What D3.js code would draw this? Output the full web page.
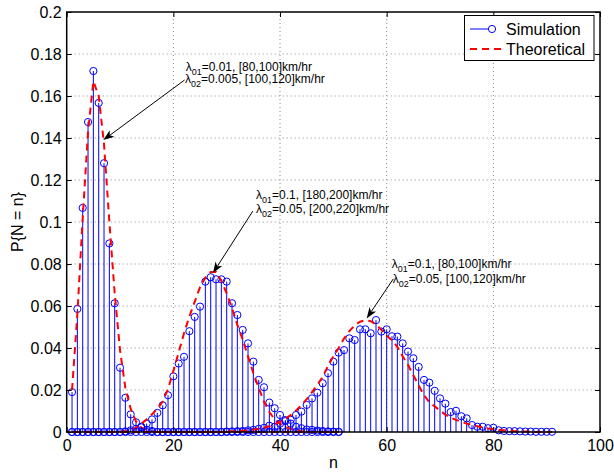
<!DOCTYPE html>
<html>
<head>
<meta charset="utf-8">
<script src="https://cdn.jsdelivr.net/npm/d3@7"></script>
<style>
  body { margin: 0; background: #fff; }
  svg text { font-family: "Liberation Sans", Arial, Helvetica, sans-serif; fill: #000; }
</style>
</head>
<body>
<div id="chart"></div>
<script>
// simulated P{N = n}, index 0 -> n = 1
var sim1 = [0.019, 0.0586, 0.1067, 0.1476, 0.1719, 0.1567, 0.128, 0.0898, 0.0613, 0.0306,
            0.0163, 0.0084, 0.0046, 0.0022, 0.001, 0.0005, 0, 0, 0, 0,
            0, 0, 0, 0, 0, 0, 0, 0, 0, 0,
            0, 0, 0, 0, 0, 0, 0, 0, 0, 0,
            0, 0, 0, 0, 0, 0, 0, 0, 0, 0, 0];
var sim2 = [0, 0, 0, 0, 0, 0, 0, 0, 0, 0,
            0.0003, 0.0008, 0.0015, 0.0025, 0.004, 0.006, 0.0091, 0.0127, 0.0175, 0.0265,
            0.0326, 0.0358, 0.048, 0.0548, 0.0597, 0.0716, 0.0737, 0.0727, 0.0727, 0.0716,
            0.0613, 0.0557, 0.0486, 0.0422, 0.0335, 0.0248, 0.0213, 0.014, 0.0113, 0.0081,
            0.0057, 0.004, 0.0025, 0.0018, 0.0012, 0.001, 0.0007, 0.0005, 0.0003, 0.0002, 0.0001];
var sim3 = [0, 0, 0, 0, 0, 0, 0, 0, 0, 0,
            0, 0, 0, 0, 0, 0, 0, 0, 0, 0,
            0, 0, 0, 0, 0, 0, 0, 0, 0, 0.0002,
            0.0003, 0.0004, 0.0005, 0.0008, 0.001, 0.0015, 0.002, 0.003, 0.0025, 0.004,
            0.0052, 0.0058, 0.0081, 0.0097, 0.0129, 0.016, 0.0187, 0.0232, 0.028, 0.0335,
            0.0378, 0.039, 0.0446, 0.0438, 0.0489, 0.0489, 0.047, 0.0533, 0.0478, 0.0489,
            0.0456, 0.0454, 0.0422, 0.0383, 0.0351, 0.031, 0.0248, 0.0235, 0.0196, 0.016,
            0.0135, 0.0095, 0.0101, 0.0075, 0.0065, 0.0033, 0.0025, 0.0025, 0.0018, 0.002,
            0.0008, 0.0005, 0.0004, 0.0004, 0.0003, 0.0002, 0.0002, 0.0001, 0.0001, 0.0001, 0.0001];

// theoretical P{N = n}, index 0 -> n = 1
var theo1 = [0.02, 0.056, 0.102, 0.143, 0.167, 0.16, 0.137, 0.1, 0.066, 0.039,
             0.021, 0.011, 0.005, 0.002, 0.001, 0.0004, 0, 0, 0, 0,
             0, 0, 0, 0, 0, 0, 0, 0, 0, 0,
             0, 0, 0, 0, 0, 0, 0, 0, 0, 0,
             0, 0, 0, 0, 0, 0, 0, 0, 0, 0, 0];
var theo2 = [0, 0, 0, 0, 0, 0, 0, 0, 0, 0,
             0.0005, 0.001, 0.002, 0.004, 0.006, 0.0085, 0.011, 0.0145, 0.0205, 0.029,
             0.038, 0.047, 0.055, 0.062, 0.069, 0.0735, 0.0762, 0.0762, 0.072, 0.066,
             0.059, 0.051, 0.044, 0.036, 0.028, 0.021, 0.0145, 0.0095, 0.006, 0.004,
             0.0025, 0.0015, 0.0008, 0.0004, 0.0002, 0, 0, 0, 0, 0, 0];
var theo3 = [0, 0, 0, 0, 0, 0, 0, 0, 0, 0,
             0, 0, 0, 0, 0, 0, 0, 0, 0, 0,
             0, 0, 0, 0, 0, 0, 0, 0, 0, 0.0002,
             0.0003, 0.0004, 0.0006, 0.0008, 0.0011, 0.0015, 0.002, 0.0027, 0.0036, 0.0048,
             0.0063, 0.008, 0.0102, 0.0127, 0.0156, 0.019, 0.0225, 0.0262, 0.0315, 0.036,
             0.04, 0.0445, 0.048, 0.0508, 0.0525, 0.0533, 0.0528, 0.0512, 0.0487, 0.0458,
             0.0438, 0.0405, 0.036, 0.032, 0.027, 0.0222, 0.0175, 0.0142, 0.0122, 0.0102,
             0.0083, 0.0068, 0.0058, 0.0048, 0.004, 0.0034, 0.0028, 0.0022, 0.0017, 0.0013,
             0.001, 0.0008, 0.0006, 0.0004, 0.0003, 0.0002, 0.0001, 0, 0, 0, 0];

var xTicks = [0, 20, 40, 60, 80, 100];
var yTicks = [0, 0.02, 0.04, 0.06, 0.08, 0.1, 0.12, 0.14, 0.16, 0.18, 0.2];
var legendNames = ["Simulation", "Theoretical"];

// annotation text + arrow (data units)
var notes = [
  {l1: ["01", "=0.01, [80,100]km/hr"], l2: ["02", "=0.005, [100,120]km/hr"],
   t1: [22.3, 0.172], t2: [22.2, 0.166], from: [22.1, 0.1676], to: [6.86, 0.139]},
  {l1: ["01", "=0.1, [180,200]km/hr"], l2: ["02", "=0.05, [200,220]km/hr"],
   t1: [35.5, 0.1108], t2: [35.5, 0.1041], from: [34.9, 0.1052], to: [27.43, 0.0757]},
  {l1: ["01", "=0.1, [80,100]km/hr"], l2: ["02", "=0.05, [100,120]km/hr"],
   t1: [60.94, 0.078], t2: [61.13, 0.0708], from: [61.24, 0.0729], to: [56.25, 0.0541]}
];

var width = 614, height = 474;
var margin = {top: 12, right: 14, bottom: 42, left: 66.7};

var svg = d3.select("#chart").append("svg")
  .attr("width", width)
  .attr("height", height);

var x = d3.scaleLinear().domain([0, 100]).range([margin.left, width - margin.right]);
var y = d3.scaleLinear().domain([0, 0.2]).range([height - margin.bottom, margin.top]);

// dotted grid
svg.append("g").selectAll("line.gx")
  .data(xTicks.slice(1, -1)).enter().append("line")
  .attr("x1", d => x(d)).attr("x2", d => x(d))
  .attr("y1", y(0)).attr("y2", y(0.2))
  .attr("stroke", "#8a8a8a").attr("stroke-width", 1).attr("stroke-dasharray", "1,3");
svg.append("g").selectAll("line.gy")
  .data(yTicks.slice(1, -1)).enter().append("line")
  .attr("y1", d => y(d)).attr("y2", d => y(d))
  .attr("x1", x(0)).attr("x2", x(100))
  .attr("stroke", "#8a8a8a").attr("stroke-width", 1).attr("stroke-dasharray", "1,3");

var line = d3.line().x(d => x(d.n)).y(d => y(d.v));
var toPts = arr => arr.map((v, i) => ({n: i + 1, v: v}));

function drawStem(arr) {
  var pts = toPts(arr);
  var g = svg.append("g");
  g.selectAll("line").data(pts).enter().append("line")
    .attr("x1", d => x(d.n)).attr("x2", d => x(d.n))
    .attr("y1", y(0)).attr("y2", d => y(d.v))
    .attr("stroke", "#0000ff").attr("stroke-width", 1);
  g.selectAll("circle").data(pts).enter().append("circle")
    .attr("cx", d => x(d.n)).attr("cy", d => y(d.v)).attr("r", 3.6)
    .attr("fill", "none").attr("stroke", "#0000ff").attr("stroke-width", 1);
}
function drawTheo(arr) {
  svg.append("path").datum(toPts(arr))
    .attr("d", line)
    .attr("fill", "none").attr("stroke", "#ff0000")
    .attr("stroke-width", 2).attr("stroke-dasharray", "7,5");
}

drawStem(sim1); drawTheo(theo1);
drawStem(sim2); drawTheo(theo2);
drawStem(sim3); drawTheo(theo3);

// axes, ticks inward on all sides
var fmt = d => d === 0 ? "0" : String(+d.toFixed(2));
var ax = svg.append("g").attr("transform", "translate(0," + y(0) + ")")
  .call(d3.axisBottom(x).tickValues(xTicks).tickSize(-5).tickPadding(8).tickFormat(fmt));
var ay = svg.append("g").attr("transform", "translate(" + x(0) + ",0)")
  .call(d3.axisLeft(y).tickValues(yTicks).tickSize(-5).tickPadding(5).tickFormat(fmt));
var at = svg.append("g").attr("transform", "translate(0," + y(0.2) + ")")
  .call(d3.axisTop(x).tickValues(xTicks).tickSize(-5).tickFormat(""));
var ar = svg.append("g").attr("transform", "translate(" + x(100) + ",0)")
  .call(d3.axisRight(y).tickValues(yTicks).tickSize(-5).tickFormat(""));
[ax, ay, at, ar].forEach(function(g) {
  g.select(".domain").remove();
  g.selectAll("text").style("font-size", "16px");
});

svg.append("rect")
  .attr("x", x(0)).attr("y", y(0.2))
  .attr("width", x(100) - x(0)).attr("height", y(0) - y(0.2))
  .attr("fill", "none").attr("stroke", "#000").attr("stroke-width", 1.5);

// axis labels
svg.append("text")
  .attr("x", (x(0) + x(100)) / 2).attr("y", 468)
  .attr("text-anchor", "middle").style("font-size", "16px").text("n");
svg.append("text")
  .attr("transform", "translate(23," + y(0.1) + ") rotate(-90)")
  .attr("text-anchor", "middle").style("font-size", "16px").text("P{N = n}");

// annotations
function lambdaText(pos, parts) {
  var t = svg.append("text")
    .attr("x", x(pos[0])).attr("y", y(pos[1]))
    .style("font-size", "12px");
  t.append("tspan").text("\u03bb");
  t.append("tspan").attr("dy", 4).style("font-size", "9px").text(parts[0]);
  t.append("tspan").attr("dy", -4).text(parts[1]);
}
function arrow(from, to) {
  var x1 = x(from[0]), y1 = y(from[1]), x2 = x(to[0]), y2 = y(to[1]);
  var ang = Math.atan2(y2 - y1, x2 - x1);
  var L = 11, W = 4, back = 8;
  var bx = x2 - L * Math.cos(ang), by = y2 - L * Math.sin(ang);
  var nx = x2 - back * Math.cos(ang), ny = y2 - back * Math.sin(ang);
  svg.append("line")
    .attr("x1", x1).attr("y1", y1).attr("x2", nx).attr("y2", ny)
    .attr("stroke", "#000").attr("stroke-width", 1);
  var pts = [
    [x2, y2],
    [bx - W * Math.sin(ang) * -1, by - W * Math.cos(ang)],
    [nx, ny],
    [bx + W * Math.sin(ang) * -1, by + W * Math.cos(ang)]
  ];
  svg.append("path")
    .attr("d", "M" + pts.map(p => p.join(",")).join("L") + "Z")
    .attr("fill", "#000");
}
notes.forEach(function(a) {
  lambdaText(a.t1, a.l1);
  lambdaText(a.t2, a.l2);
  arrow(a.from, a.to);
});

// legend
var lg = svg.append("g");
lg.append("rect")
  .attr("x", 464.5).attr("y", 15.5).attr("width", 129.5).attr("height", 45)
  .attr("fill", "#fff").attr("stroke", "#000").attr("stroke-width", 1);
lg.append("line").attr("x1", 470).attr("x2", 492).attr("y1", 29).attr("y2", 29)
  .attr("stroke", "#0000ff").attr("stroke-width", 1);
lg.append("circle").attr("cx", 492).attr("cy", 29).attr("r", 3.6)
  .attr("fill", "#fff").attr("stroke", "#0000ff").attr("stroke-width", 1);
lg.append("line").attr("x1", 470).attr("x2", 503).attr("y1", 49).attr("y2", 49)
  .attr("stroke", "#ff0000").attr("stroke-width", 2).attr("stroke-dasharray", "7,5");
lg.selectAll("text").data(legendNames).enter().append("text")
  .attr("x", 506).attr("y", (d, i) => 35 + i * 20)
  .style("font-size", "16px").text(d => d);
</script>
</body>
</html>
